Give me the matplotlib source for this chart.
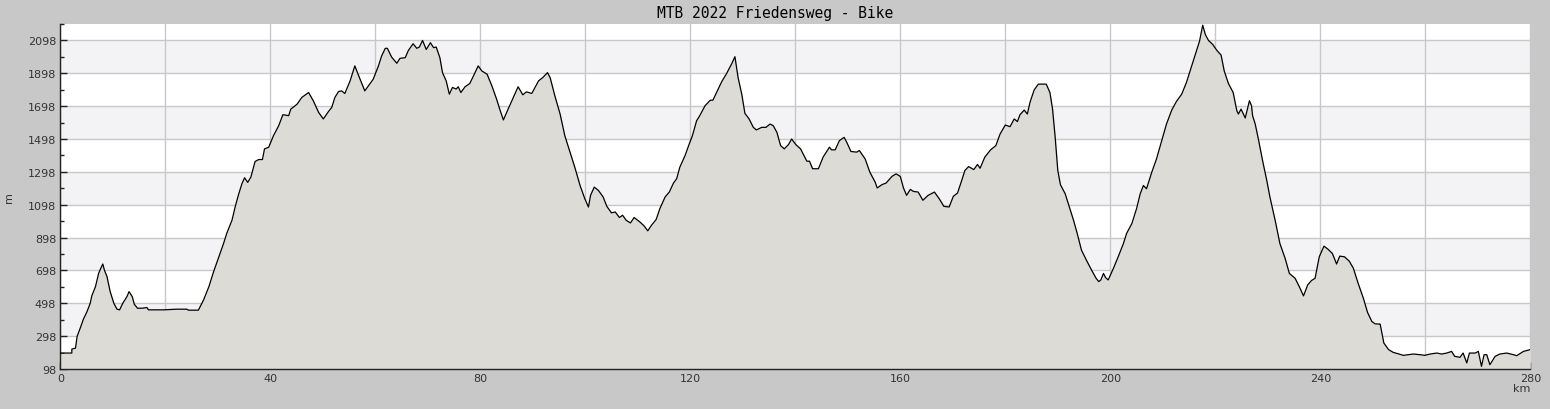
import numpy as np
import matplotlib.pyplot as plt
from matplotlib.ticker import MultipleLocator, FuncFormatter

# distance (km) and elevation (m)
km = [0, 2.2, 2.2, 2.9, 3.2, 3.8, 4.4, 5.1, 5.7, 6.0, 6.7, 7.3, 7.7, 8.1, 8.4, 8.9, 9.5,
      10.2, 10.8, 11.3, 11.9, 12.7, 13.1, 13.7, 14.1, 14.7, 15.6, 16.5, 16.8, 19.7, 22.2,
      24.1, 24.4, 26.3, 27.3, 28.3, 29.2, 30.2, 31.1, 31.7, 32.7, 33.3, 34.0, 34.6, 35.1,
      35.7, 36.3, 37.1, 37.8, 38.5, 38.9, 39.7, 40.6, 41.6, 42.4, 43.5, 43.9, 45.1, 46.0,
      47.3, 48.2, 49.2, 50.1, 51.1, 51.7, 52.3, 53.0, 53.6, 54.2, 55.2, 56.1, 57.1, 58.0,
      59.0, 59.6, 60.6, 61.2, 61.9, 62.3, 63.1, 64.1, 64.7, 65.7, 66.3, 67.2, 67.9, 68.4,
      69.0, 69.7, 70.5, 71.1, 71.6, 72.3, 72.8, 73.5, 74.1, 74.7, 75.4, 75.8, 76.3, 77.1,
      78.0, 78.7, 79.6, 80.3, 81.3, 82.2, 83.1, 83.8, 84.4, 85.3, 86.3, 87.2, 88.1, 88.8,
      89.8, 91.1, 91.9, 92.8, 93.3, 94.2, 95.2, 96.1, 97.1, 98.0, 99.0, 99.9, 100.6,
      101.0, 101.7, 102.5, 103.4, 104.1, 105.0, 105.7, 106.5, 107.1, 107.8, 108.6, 109.3,
      110.4, 111.2, 111.9, 112.6, 113.5, 114.2, 115.2, 116.0, 116.8, 117.4, 118.0, 119.0,
      119.8, 120.4, 121.2, 121.8, 122.8, 123.8, 124.3, 125.0, 126.0, 126.9, 127.9, 128.5,
      129.1, 129.8, 130.4, 131.2, 132.0, 132.6, 133.6, 134.4, 135.2, 135.8, 136.5, 137.2,
      137.9, 138.7, 139.3, 140.1, 141.0, 142.2, 142.7, 143.3, 144.4, 145.3, 146.5, 146.9,
      147.6, 148.4, 149.3, 149.8, 150.6, 151.7, 152.2, 153.3, 154.2, 155.2, 155.6, 156.5,
      157.3, 158.4, 159.2, 160.0, 160.6, 161.2, 161.9, 162.5, 163.4, 164.3, 165.3, 166.5,
      167.4, 168.3, 169.3, 170.1, 170.9, 171.7, 172.3, 173.0, 174.0, 174.7, 175.2, 176.1,
      177.2, 178.2, 179.0, 180.0, 180.9, 181.7, 182.3, 182.8, 183.6, 184.2, 184.7, 185.5,
      186.3, 187.1, 187.8, 188.5, 189.0, 189.5, 190.0, 190.5, 191.4, 192.2, 193.0, 193.7,
      194.5, 195.5, 196.5, 197.3, 197.8, 198.2, 198.7, 199.1, 199.6, 200.6, 201.5, 202.5,
      203.1, 204.1, 205.0, 205.7, 206.3, 206.9, 207.9, 208.8, 209.8, 210.7, 211.7, 212.6,
      213.6, 214.5, 215.2, 216.1, 217.0, 217.6, 218.1, 218.7, 219.5, 220.3, 221.1, 221.7,
      222.5, 223.4, 224.1, 224.4, 224.9, 225.2, 225.7, 226.5, 226.9, 227.1, 227.6, 228.2,
      229.0, 229.8, 230.4, 231.4, 232.3, 233.3, 234.1, 235.2, 236.0, 236.8, 237.6, 238.3,
      239.0, 239.8, 240.7, 241.5, 242.3, 243.1, 243.7, 244.6, 245.5, 246.3, 247.2, 248.2,
      249.0, 249.8, 250.4, 251.4, 252.1, 253.0, 253.9, 254.8, 255.8, 256.8, 257.7, 259.0,
      259.9, 260.9, 262.2, 263.1, 264.1, 265.0, 265.6, 266.6, 267.2, 267.9, 268.4, 269.5,
      270.1, 270.7, 271.2, 271.7, 272.3, 273.3, 274.2, 275.5, 276.8, 277.4, 278.7, 280.0]
elev = [195, 195, 219, 225, 296, 347, 401, 448, 498, 543, 599, 680, 710, 737, 700, 660, 569,
        498, 462, 458, 498, 539, 569, 539, 492, 468, 468, 472, 458, 458, 462,
        462, 456, 456, 519, 599, 690, 781, 862, 923, 1003, 1084, 1165, 1226, 1262,
        1234, 1266, 1361, 1373, 1373, 1438, 1448, 1518, 1579, 1646, 1640, 1680, 1710, 1751,
        1781, 1730, 1660, 1620, 1666, 1690, 1751, 1787, 1791, 1775, 1852, 1943, 1862, 1791,
        1836, 1862, 1943, 2003, 2050, 2050, 1997, 1959, 1989, 1993, 2037, 2078, 2050, 2058,
        2098, 2043, 2084, 2054, 2058, 1993, 1902, 1852, 1771, 1812, 1802, 1816, 1781, 1816,
        1836, 1882, 1943, 1912, 1892, 1822, 1741, 1670, 1614, 1680, 1751, 1816, 1767, 1785,
        1775, 1852, 1872, 1902, 1872, 1761, 1650, 1518, 1417, 1326, 1215, 1135, 1084,
        1155, 1205, 1185, 1145, 1088, 1048, 1054, 1020, 1034, 1003, 987, 1020,
        993, 969, 939, 973, 1008, 1074, 1145, 1175, 1230, 1256, 1326, 1397,
        1468, 1518, 1609, 1640, 1700, 1734, 1734, 1781, 1848, 1896, 1957, 1999,
        1872, 1771, 1654, 1620, 1569, 1553, 1569, 1569, 1589, 1579, 1538, 1458,
        1438, 1464, 1498, 1464, 1438, 1363, 1363, 1317, 1317, 1388, 1448, 1432,
        1432, 1488, 1508, 1478, 1422, 1418, 1428, 1377, 1296, 1236, 1200, 1220,
        1230, 1270, 1286, 1270, 1200, 1155, 1191, 1179, 1175, 1125, 1155, 1175,
        1135, 1088, 1084, 1149, 1169, 1246, 1306, 1330, 1312, 1343, 1320, 1388,
        1432, 1458, 1528, 1583, 1573, 1620, 1604, 1646, 1674, 1650, 1721, 1797,
        1832, 1832, 1832, 1781, 1680, 1508, 1306, 1220, 1165, 1084, 1003, 923,
        822, 757, 696, 650, 630, 640, 680, 654, 640, 711, 781, 862,
        923, 983, 1074, 1165, 1215, 1195, 1296, 1377, 1488, 1589, 1674, 1727,
        1771, 1842, 1912, 2003, 2094, 2191, 2134, 2098, 2074, 2037, 2009, 1912,
        1836, 1781, 1670, 1650, 1680, 1660, 1626, 1731, 1700, 1640, 1589, 1498,
        1367, 1246, 1145, 1003, 862, 771, 680, 650, 599, 543, 610, 636,
        650, 781, 846, 826, 801, 737, 785, 781, 755, 711, 620, 529,
        442, 388, 373, 371, 256, 216, 199, 191, 181, 185, 189, 185,
        181, 189, 195, 189, 195, 205, 175, 169, 195, 135, 195, 195,
        205, 114, 185, 185, 124, 175, 189, 195, 185, 179, 205, 216]

title = "MTB 2022 Friedensweg - Bike"
y_min, y_max = 98, 2198
x_max = 280
bands = [(298, 498), (698, 898), (1098, 1298), (1498, 1698), (1898, 2098)]

bg = "#c8c8c8"
fig = plt.figure(figsize=(15.5, 4.1), dpi=100, facecolor=bg)
ax = fig.add_axes([0.0389, 0.0976, 0.9484, 0.8414])
ax.set_facecolor("white")

for lo, hi in bands:
    ax.axhspan(lo, hi, color="#f3f2f5", zorder=0, lw=0)

ax.fill_between(km, elev, y_min, color="#dcdbd6", zorder=2, lw=0)
ax.plot(km, elev, color="black", lw=0.9, zorder=3)

ax.set_xlim(0, x_max)
ax.set_ylim(y_min, y_max)

ax.xaxis.set_major_locator(MultipleLocator(20))
ax.xaxis.set_minor_locator(MultipleLocator(10))
ax.xaxis.set_major_formatter(FuncFormatter(lambda v, p: f"{v:.0f}" if v % 40 == 0 else ""))
ax.set_yticks(np.arange(98, 2099, 200))
ax.set_yticks(np.arange(198, 2199, 200), minor=True)

ax.grid(True, which="major", color="#c8c8c8", lw=1, zorder=1)
ax.set_axisbelow(True)

for s in ["top", "right"]:
    ax.spines[s].set_visible(False)
for s in ["left", "bottom"]:
    ax.spines[s].set_color("#222222")
    ax.spines[s].set_linewidth(1)

ax.tick_params(which="major", direction="in", length=5, width=1, color="#222222",
               labelsize=8, labelcolor="#333333", pad=3)
ax.tick_params(which="minor", direction="in", length=3, width=1, color="#222222")

ax.set_xlabel("km", fontsize=8, color="#333333", loc="right", labelpad=0)
ax.set_ylabel("m", fontsize=8, color="#333333")
ax.yaxis.set_label_coords(-0.0315, 0.5)

fig.text(0.5, 0.966, title, ha="center", va="center", fontsize=10.5,
         family="DejaVu Sans Mono", color="black")

fig.savefig("out.png", dpi=100, facecolor=bg)
